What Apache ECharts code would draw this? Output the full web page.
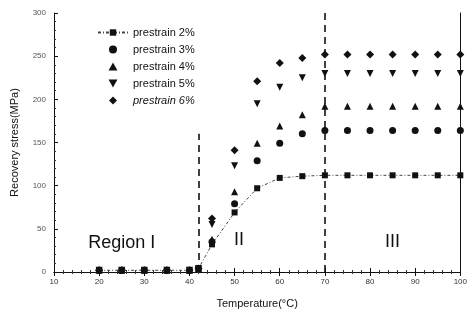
<!DOCTYPE html>
<html lang="en">
  <head>
    <meta charset="UTF-8" />
    <title>Recovery stress</title>
    <style>
      html, body { margin: 0; padding: 0; background: #fff; }
      #main { width: 470px; height: 320px; }
    </style>
  </head>
  <body>
    <div id="main"></div>
    <script src="https://cdn.jsdelivr.net/npm/echarts@6/dist/echarts.min.js"></script>
    <script>
      // temperature (°C)
      var temps = [20, 25, 30, 35, 40, 42, 45, 50, 55, 60, 65, 70, 75, 80, 85, 90, 95, 100];
      // recovery stress (MPa) per prestrain
      var s2 = [2, 2, 2, 2, 2, 4, 32, 69, 97, 109, 111, 112, 112, 112, 112, 112, 112, 112];
      var s3 = [2, 2, 2, 2, 2, 4, 35, 79, 129, 149, 160, 164, 164, 164, 164, 164, 164, 164];
      var s4 = [2, 2, 2, 2, 2, 4, 38, 93, 149, 169, 182, 192, 192, 192, 192, 192, 192, 192];
      var s5 = [2, 2, 2, 2, 2, 4, 55, 123, 195, 214, 225, 230, 230, 230, 230, 230, 230, 230];
      var s6 = [2, 2, 2, 2, 2, 4, 62, 141, 221, 242, 248, 252, 252, 252, 252, 252, 252, 252];
      var names = ['prestrain 2%', 'prestrain 3%', 'prestrain 4%', 'prestrain 5%', 'prestrain 6%'];
      var xTicks = [10, 20, 30, 40, 50, 60, 70, 80, 90, 100];
      var yTicks = [0, 50, 100, 150, 200, 250, 300];
      // region boundaries [temperature, top stress]
      var bounds = [[42, 160], [70, 300]];
      var regions = [['Region I', 25, 34], ['II', 51, 37], ['III', 85, 35]];

      function pairs(ys) {
        return temps.map(function (t, i) { return [t, ys[i]]; });
      }

      var myChart = echarts.init(document.getElementById('main'));
      var font = 'Liberation Sans, Arial, sans-serif';
      var black = '#111';
      var dot = { color: black, opacity: 1 };
      // marker shapes (paths keep their aspect in the legend)
      var triUp = 'path://M5,0 L10,9 L0,9 Z';
      var triDown = 'path://M0,0 L10,0 L5,9 Z';
      var diamond = 'path://M5,0 L10,5 L5,10 L0,5 Z';

      var axisCommon = {
        type: 'value',
        axisLine: { show: true, lineStyle: { color: black, width: 1 } },
        axisTick: { show: true, inside: true, length: 4, lineStyle: { color: black } },
        minorTick: { show: true, splitNumber: 5, length: 2, lineStyle: { color: '#333' } },
        splitLine: { show: false }
      };

      var option = {
        backgroundColor: '#fff',
        animation: false,
        grid: { left: 54, right: 7, top: 13, bottom: 48 },
        legend: {
          orient: 'vertical',
          left: 92,
          top: 22,
          itemWidth: 30,
          itemHeight: 8,
          itemGap: 6,
          symbolKeepAspect: true,
          textStyle: { fontFamily: font, fontSize: 11, color: '#111' },
          data: [
            { name: names[0] },
            { name: names[1], icon: 'circle' },
            { name: names[2], icon: triUp },
            { name: names[3], icon: triDown },
            { name: names[4], icon: diamond, textStyle: { fontStyle: 'italic' } }
          ]
        },
        xAxis: [
          Object.assign({}, axisCommon, {
            min: 10, max: 100, interval: 10,
            name: 'Temperature(°C)',
            nameLocation: 'middle',
            nameGap: 26,
            nameTextStyle: { fontFamily: font, fontSize: 11, color: '#111' },
            axisLabel: {
              fontFamily: font, fontSize: 8, color: '#333', margin: 6,
              formatter: function (v) { return xTicks.indexOf(v) >= 0 ? v : ''; }
            }
          }),
          Object.assign({}, axisCommon, {
            position: 'top', min: 10, max: 100, interval: 10,
            axisLabel: { show: false }
          })
        ],
        yAxis: [
          Object.assign({}, axisCommon, {
            min: 0, max: 300, interval: 50,
            name: 'Recovery stress(MPa)',
            nameLocation: 'middle',
            nameGap: 34,
            nameTextStyle: { fontFamily: font, fontSize: 11, color: '#111' },
            axisLabel: {
              fontFamily: font, fontSize: 8, color: '#555', margin: 8,
              formatter: function (v) { return yTicks.indexOf(v) >= 0 ? v : ''; }
            }
          }),
          Object.assign({}, axisCommon, {
            position: 'right', min: 0, max: 300, interval: 50,
            axisTick: { show: false }, minorTick: { show: false },
            axisLabel: { show: false }
          })
        ],
        series: [
          {
            name: names[0], type: 'line', data: pairs(s2),
            symbol: 'rect', symbolSize: 6,
            itemStyle: dot,
            lineStyle: { color: '#444', width: 1, type: [3, 2, 1, 2] },
            markLine: {
              silent: true, symbol: 'none', label: { show: false },
              lineStyle: { color: black, width: 1.6, type: [7, 5] },
              data: bounds.map(function (b) {
                return [{ coord: [b[0], 0] }, { coord: [b[0], b[1]] }];
              })
            },
            markPoint: {
              silent: true, symbol: 'circle', symbolSize: 0,
              label: {
                show: true, fontFamily: font, fontSize: 18, color: '#111',
                formatter: function (p) { return p.name; }
              },
              data: regions.map(function (r) {
                return { name: r[0], coord: [r[1], r[2]] };
              })
            }
          },
          {
            name: names[1], type: 'scatter', data: pairs(s3),
            symbol: 'circle', symbolSize: 7, itemStyle: dot
          },
          {
            name: names[2], type: 'scatter', data: pairs(s4),
            symbol: triUp, symbolSize: 7, itemStyle: dot
          },
          {
            name: names[3], type: 'scatter', data: pairs(s5),
            symbol: triDown, symbolSize: 7, itemStyle: dot
          },
          {
            name: names[4], type: 'scatter', data: pairs(s6),
            symbol: diamond, symbolSize: 8, itemStyle: dot
          }
        ]
      };

      myChart.setOption(option);
    </script>
  </body>
</html>
